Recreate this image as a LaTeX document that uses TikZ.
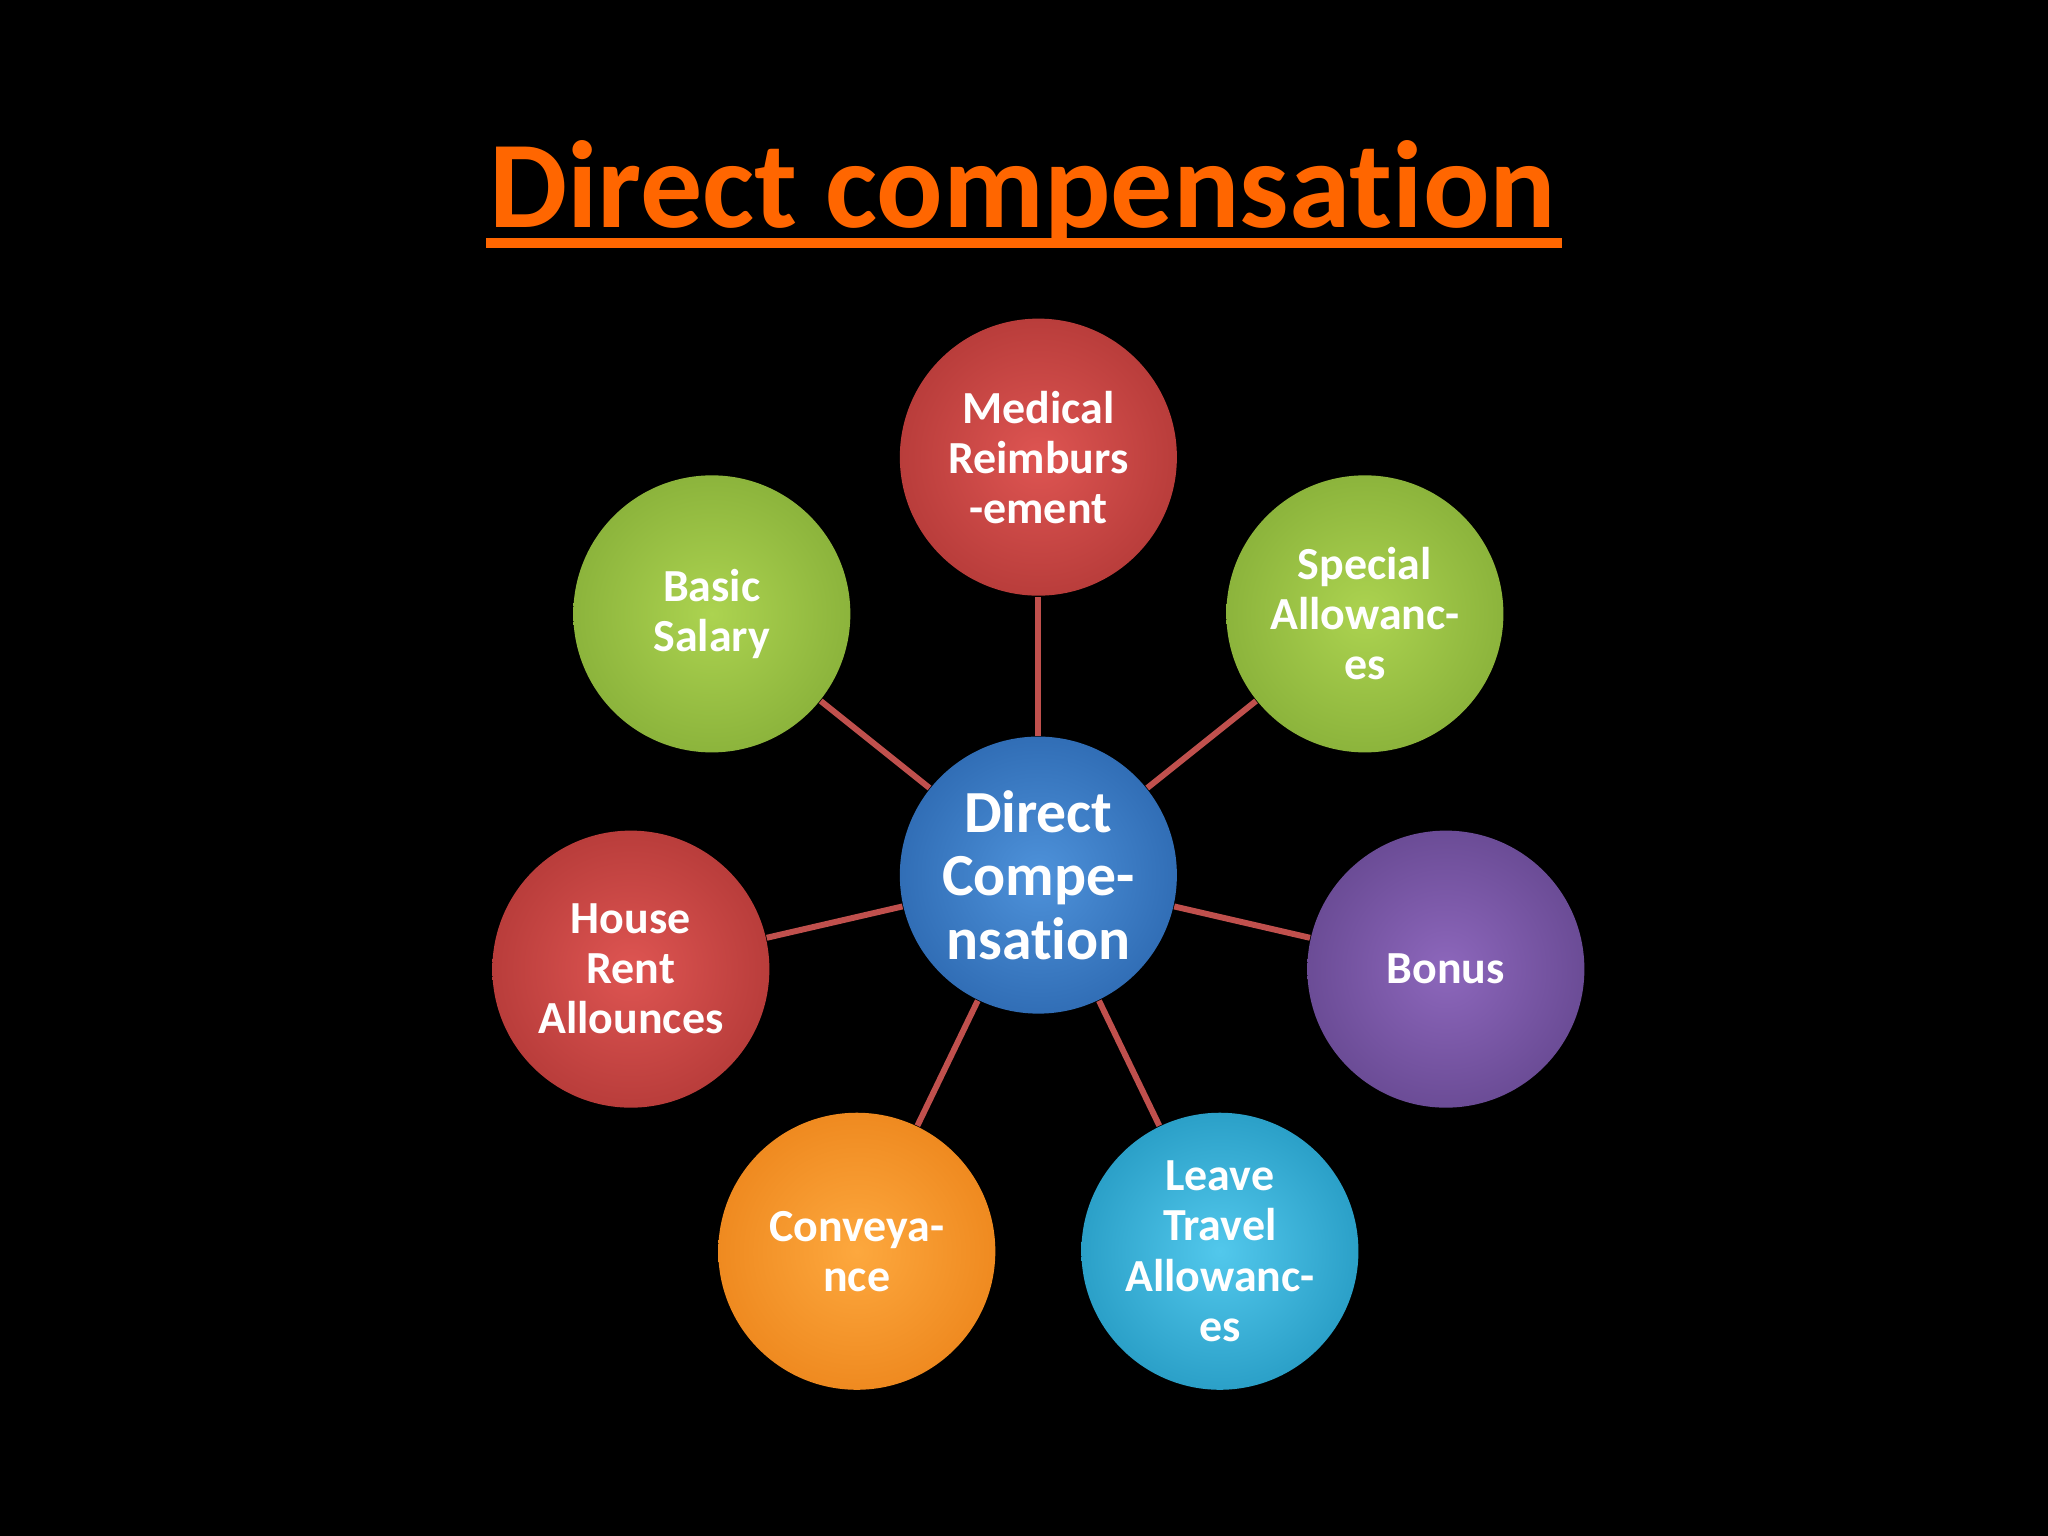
\documentclass[tikz,border=0pt]{standalone}
\usepackage{fontspec}
\setmainfont{Carlito}[Ligatures=NoCommon]
\begin{document}
\begin{tikzpicture}[x=0.01cm,y=-0.01cm,
  ball/.style={circle,minimum size=2.12cm,inner sep=0pt,align=center,text=white,
    font=\fontsize{10pt}{10.9pt}\selectfont\bfseries,shading=radial},
  link/.style={draw=conn,line width=1.3pt}]
\definecolor{conn}{HTML}{C0504D}
\definecolor{ttl}{HTML}{FF6600}
\definecolor{rI}{HTML}{DE5552}\definecolor{rO}{HTML}{B93D3B}
\definecolor{gI}{HTML}{ACD350}\definecolor{gO}{HTML}{8CB43C}
\definecolor{pI}{HTML}{8D67BC}\definecolor{pO}{HTML}{6B4C96}
\definecolor{oI}{HTML}{FDA83E}\definecolor{oO}{HTML}{EF8A20}
\definecolor{cI}{HTML}{52C8EC}\definecolor{cO}{HTML}{2BA0C8}
\definecolor{bI}{HTML}{4E92DA}\definecolor{bO}{HTML}{316EB6}
\fill[black] (0,0) rectangle (1568,1176);
\node[text=ttl,font=\fontsize{27pt}{30pt}\selectfont\bfseries] (title) at (783,148) {Direct compensation};
\draw[ttl,line width=2.3pt] (372,186) -- (1196,186);
\node[ball,inner color=rI,outer color=rO] (med) at (795,350) {Medical\\Reimburs\\-ement};
\node[ball,inner color=gI,outer color=gO] (bas) at (545,470) {Basic\\Salary};
\node[ball,inner color=gI,outer color=gO] (spe) at (1045,470) {Special\\Allowanc-\\es};
\node[ball,inner color=rI,outer color=rO] (hou) at (483,742) {House\\Rent\\Allounces};
\node[ball,inner color=pI,outer color=pO] (bon) at (1107,742) {Bonus};
\node[ball,inner color=oI,outer color=oO] (con) at (656,958) {Conveya-\\nce};
\node[ball,inner color=cI,outer color=cO] (lea) at (934,958) {Leave\\Travel\\Allowanc-\\es};
\node[ball,font=\fontsize{13pt}{13.8pt}\selectfont\bfseries,inner color=bI,outer color=bO] (ctr) at (795,670) {Direct\\Compe-\\nsation};
\foreach \n in {med,bas,spe,hou,bon,con,lea} \draw[link] (ctr) -- (\n);
\end{tikzpicture}
\end{document}
